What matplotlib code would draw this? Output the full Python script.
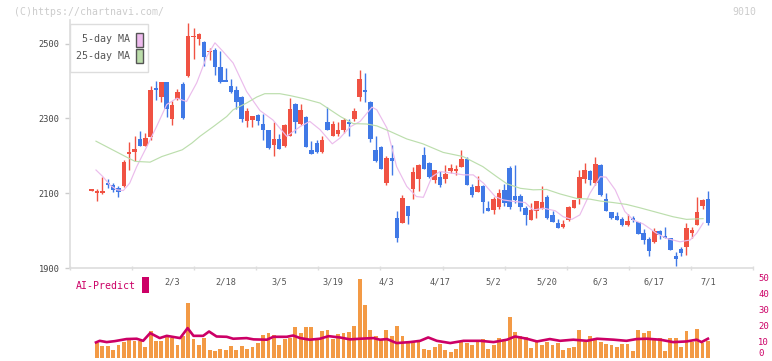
import numpy as np
import matplotlib.pyplot as plt
from matplotlib.patches import Rectangle

W, H = 772, 361
MONO = 'DejaVu Sans Mono'

# daily candles, 2025-01-10 .. 2025-07-01
opens = [2107, 2102, 2101, 2126, 2122, 2113, 2118, 2206, 2209, 2245,
         2227, 2250, 2379, 2356, 2396, 2297, 2353, 2393, 2412, 2518,
         2513, 2503, 2478, 2484, 2438, 2401, 2387, 2377, 2358, 2294,
         2296, 2309, 2286, 2268, 2229, 2245, 2225, 2254, 2339, 2286,
         2304, 2216, 2235, 2209, 2291, 2254, 2257, 2268, 2291, 2298,
         2358, 2376, 2345, 2216, 2224, 2127, 2195, 2034, 2021, 2066,
         2112, 2139, 2203, 2181, 2134, 2144, 2139, 2160, 2161, 2171,
         2192, 2117, 2104, 2120, 2061, 2056, 2064, 2109, 2168, 2093,
         2093, 2061, 2028, 2053, 2059, 2090, 2042, 2020, 2010, 2028,
         2061, 2088, 2139, 2160, 2128, 2176, 2085, 2050, 2039, 2031,
         2016, 2034, 2023, 1994, 1977, 1969, 1999, 1984, 1980, 1932,
         1951, 1957, 1994, 2016, 2066, 2085]
highs = [2110, 2111, 2144, 2137, 2127, 2120, 2188, 2237, 2252, 2267,
         2261, 2386, 2399, 2398, 2397, 2347, 2379, 2396, 2554, 2541,
         2527, 2508, 2487, 2488, 2479, 2435, 2406, 2386, 2360, 2328,
         2307, 2312, 2312, 2269, 2291, 2259, 2285, 2355, 2341, 2339,
         2307, 2240, 2243, 2252, 2330, 2293, 2291, 2301, 2299, 2328,
         2428, 2422, 2347, 2253, 2225, 2200, 2229, 2052, 2095, 2067,
         2171, 2177, 2224, 2183, 2163, 2158, 2175, 2178, 2175, 2216,
         2197, 2124, 2147, 2121, 2079, 2089, 2111, 2125, 2174, 2176,
         2099, 2066, 2074, 2080, 2119, 2095, 2052, 2031, 2028, 2066,
         2083, 2162, 2181, 2161, 2197, 2177, 2101, 2051, 2050, 2037,
         2044, 2039, 2024, 2004, 1983, 2007, 2001, 2010, 1981, 1943,
         1956, 2020, 2010, 2090, 2085, 2106]
lows = [2106, 2080, 2099, 2113, 2102, 2091, 2117, 2162, 2187, 2225,
        2226, 2241, 2348, 2345, 2305, 2281, 2348, 2298, 2411, 2459,
        2495, 2439, 2457, 2417, 2395, 2399, 2368, 2326, 2289, 2277,
        2276, 2283, 2241, 2219, 2200, 2218, 2224, 2254, 2261, 2281,
        2223, 2205, 2208, 2208, 2269, 2253, 2252, 2262, 2252, 2292,
        2347, 2343, 2237, 2184, 2165, 2123, 2149, 1970, 2020, 2018,
        2085, 2107, 2165, 2141, 2128, 2116, 2127, 2155, 2148, 2170,
        2122, 2089, 2103, 2048, 2052, 2044, 2059, 2066, 2057, 2075,
        2053, 2016, 2027, 2034, 2058, 2032, 2023, 2007, 2008, 2026,
        2060, 2071, 2128, 2123, 2123, 2093, 2052, 2032, 2027, 2013,
        2013, 2023, 1990, 1964, 1932, 1967, 1977, 1980, 1948, 1905,
        1933, 1935, 1980, 2015, 2059, 2015]
closes = [2109, 2104, 2106, 2122, 2109, 2103, 2184, 2208, 2219, 2227,
          2248, 2377, 2377, 2396, 2325, 2337, 2371, 2302, 2520, 2520,
          2525, 2464, 2480, 2437, 2396, 2399, 2370, 2345, 2297, 2321,
          2306, 2292, 2270, 2221, 2245, 2219, 2283, 2326, 2291, 2323,
          2224, 2206, 2209, 2243, 2270, 2286, 2270, 2296, 2284, 2320,
          2406, 2370, 2244, 2185, 2166, 2194, 2185, 1981, 2087, 2040,
          2156, 2175, 2166, 2142, 2162, 2123, 2152, 2168, 2163, 2191,
          2123, 2094, 2118, 2077, 2053, 2085, 2100, 2075, 2064, 2082,
          2064, 2042, 2055, 2079, 2077, 2034, 2024, 2008, 2018, 2063,
          2082, 2144, 2162, 2134, 2178, 2094, 2053, 2034, 2028, 2016,
          2026, 2029, 1991, 1975, 1945, 1999, 1988, 1982, 1949, 1925,
          1940, 2007, 2002, 2050, 2082, 2020]

# moving averages (candle index, price)
ma5_idx = [0.8, 2.1, 3.4, 4.7, 5.9, 7.1, 8.4, 10.3, 12.1, 14, 15.9, 17.7, 19.6,
           21.5, 23, 24.5, 26.4, 28.9, 31.4, 33.8, 36.4, 38.9, 40.7, 42.6, 44.9,
           46.3, 48.2, 50.1, 52.3, 53.2, 55.1, 56.9, 58.8, 60.6, 61.9, 63.5, 65,
           67.5, 69.4, 71.2, 73.1, 75.3, 76.8, 78.7, 80.9, 82.4, 84.3, 86.5, 88,
           89.6, 91.1, 93, 94.9, 96, 97.7, 99.5, 101.1, 102.9, 105.4, 107.3,
           109.8, 111.7, 112.9, 114.1]
ma5_val = [2162, 2144, 2122, 2109, 2107, 2127, 2171, 2225, 2278, 2337, 2354,
           2345, 2395, 2466, 2502, 2479, 2448, 2372, 2321, 2296, 2252, 2278,
           2292, 2270, 2232, 2247, 2277, 2292, 2330, 2323, 2274, 2171, 2118,
           2091, 2089, 2144, 2158, 2153, 2149, 2149, 2127, 2091, 2082, 2078,
           2075, 2055, 2060, 2053, 2037, 2030, 2042, 2100, 2144, 2143, 2109,
           2051, 2028, 2018, 1993, 1979, 1970, 1975, 1993, 2020]
ma25_idx = [0.8, 6.3, 8.1, 10.9, 13.1, 16.9, 18.7, 20.2, 22.7, 25.2, 26.4,
            28.9, 30.8, 32.3, 35.1, 37, 39.5, 42.6, 44.5, 46.4, 48.8, 51.3,
            53.2, 55.7, 58.8, 61.8, 65.6, 69.3, 73, 75.6, 77.5, 80, 82.4, 84.9,
            87.4, 90.5, 93, 94.9, 97.3, 99.8, 102.3, 105.4, 108.5, 111, 114.1]
ma25_val = [2239, 2198, 2185, 2183, 2198, 2216, 2234, 2252, 2278, 2305, 2323,
            2341, 2357, 2366, 2366, 2361, 2353, 2341, 2323, 2305, 2286, 2285,
            2280, 2265, 2245, 2232, 2209, 2198, 2171, 2144, 2125, 2113, 2109,
            2110, 2098, 2086, 2084, 2079, 2075, 2070, 2061, 2049, 2037, 2030,
            2032]

# lower panel: bars for candles 1..115
volume = [9.5, 7.2, 7.2, 5.2, 7.9, 9.9, 11.4, 10.3, 10.3, 6.6,
          16.9, 10.3, 10.3, 13.4, 12.4, 8.3, 13.4, 34.5, 12.0, 7.9,
          12.6, 5.2, 4.5, 5.8, 5.2, 7.2, 5.2, 7.2, 5.8, 6.6,
          9.5, 14.5, 15.3, 14.5, 8.3, 11.6, 12.4, 19.6, 15.3, 19.0,
          19.0, 12.0, 16.9, 17.6, 11.6, 15.1, 15.5, 16.5, 20.0, 49.2,
          33.1, 17.6, 13.4, 11.0, 17.6, 13.4, 20.0, 13.4, 10.3, 10.3,
          10.3, 5.8, 5.2, 6.6, 8.9, 5.2, 3.7, 5.8, 9.9, 9.5,
          8.3, 9.9, 12.0, 5.8, 7.9, 12.6, 10.3, 25.8, 16.3, 14.0,
          12.8, 6.0, 9.9, 8.3, 9.9, 7.9, 9.5, 5.2, 6.0, 6.6,
          17.6, 9.9, 13.8, 12.0, 9.9, 8.9, 8.3, 6.6, 8.9, 8.9,
          4.5, 17.6, 15.7, 16.9, 12.6, 12.6, 4.5, 12.6, 12.6, 6.6,
          16.9, 9.9, 18.2, 9.1, 10.7]
ai_idx = [0.8, 1.5, 2.8, 4.3, 6.5, 8.4, 9.6, 10.9, 12.7, 14, 16.5, 17.9, 19,
          20.8, 21.9, 23.3, 25.2, 26.4, 28.9, 30.2, 32.7, 33.9, 36.4, 37.6,
          38.9, 40.7, 42.6, 44.2, 46.3, 48.2, 50.1, 52.6, 53.8, 55.1, 56.9,
          59.4, 61.3, 62.8, 64.4, 66.9, 69.4, 72.5, 75, 77.5, 79, 81.2, 83.1,
          85.5, 87.4, 89.9, 92.4, 94.3, 97.4, 99.8, 101.7, 103.6, 106.1,
          108.5, 111, 112.9, 113.8, 115]
ai_val = [9.7, 10.7, 9.9, 10.5, 11.8, 12.0, 10.7, 15.5, 12.4, 13.8, 12.4,
          18.6, 13.8, 13.8, 16.5, 13.4, 13.2, 12.0, 12.4, 11.6, 11.4, 13.2,
          13.2, 14.0, 12.4, 11.4, 12.0, 13.6, 12.8, 11.6, 12.0, 12.4, 11.4,
          11.8, 9.3, 9.9, 10.7, 12.8, 10.7, 9.3, 10.7, 10.7, 9.9, 11.4, 13.4,
          12.0, 10.3, 11.8, 10.7, 11.4, 10.7, 12.0, 11.4, 10.7, 11.8, 12.0,
          11.4, 9.9, 10.3, 11.4, 9.9, 12.0]

date_labels = ['2/3', '2/18', '3/5', '3/19', '4/3', '4/17', '5/2', '5/20',
               '6/3', '6/17', '7/1']
date_idx = [15, 25, 35, 45, 55, 65, 75, 85, 95, 105, 115]

UP, DOWN = '#f05243', '#4079e6'


def fx(px):
    return px / W


def fy(py):
    return 1 - py / H


fig = plt.figure(figsize=(W / 100, H / 100), dpi=100)
xlim = (-3.975, 123.34)

# --- price panel ---
ax = fig.add_axes([fx(70.4), fy(268), (752.6 - 70.4) / W, 248 / H])
ax.set_xlim(*xlim)
ax.set_ylim(1900, 2563)

o, h, l, c = map(np.array, (opens, highs, lows, closes))
x = np.arange(len(o))
cols = np.where(c >= o, UP, DOWN)
ax.vlines(x, l, h, colors=cols, lw=1.0, zorder=2)
body = np.maximum(np.abs(c - o), 4)
bottom = (o + c) / 2 - body / 2
ax.bar(x, body, bottom=bottom, width=0.84, color=cols, zorder=3)

ax.plot(ma5_idx, ma5_val, color='#ebbcec', lw=0.85, zorder=4)
ax.plot(ma25_idx, ma25_val, color='#bcdead', lw=0.85, zorder=4)

for s in ('top', 'right'):
    ax.spines[s].set_visible(False)
for s in ('left', 'bottom'):
    ax.spines[s].set_color('#dddddd')
    ax.spines[s].set_linewidth(1.2)
ax.set_yticks([1900, 2100, 2300, 2500])
ax.tick_params(axis='y', length=3.6, width=1, color='#cccccc', pad=4,
               labelsize=6.2, labelcolor='#444444')
for t in ax.get_yticklabels():
    t.set_family(MONO)
ax.set_xticks(np.linspace(xlim[0], xlim[1], 12))
ax.set_xticklabels([])
ax.tick_params(axis='x', direction='inout', length=3, width=1, color='#dddddd')

# --- lower panel ---
ax2 = fig.add_axes([fx(70.4), fy(358), (752.6 - 70.4) / W, 80.3 / H])
ax2.set_xlim(*xlim)
ax2.set_ylim(0, 50)
ax2.bar(np.arange(1, len(volume) + 1), volume, width=0.72, color='#f39a45',
        zorder=2)
ax2.plot(ai_idx, ai_val, color='#cc0066', lw=1.9, zorder=3)
for s in ax2.spines.values():
    s.set_visible(False)
ax2.set_xticks([])
ax2.yaxis.tick_right()
ax2.set_yticks(range(0, 51, 10))
ax2.tick_params(axis='y', length=0, pad=4, labelsize=6.4, labelcolor='#cc0066')
for t in ax2.get_yticklabels():
    t.set_family(MONO)
# keep the bottom label inside the canvas
ax2.get_yticklabels()[0].set_va('bottom')
for i, lab in zip(date_idx, date_labels):
    ax2.text(i, 47.5, lab, ha='center', va='center', fontsize=6.2,
             color='#555555', family=MONO)

# --- legend box and captions ---
fig.add_artist(Rectangle((fx(70.3), fy(71.7)), 78 / W, 47.7 / H,
                         transform=fig.transFigure, facecolor='white',
                         edgecolor='#dddddd', lw=1, zorder=5))
for yy, lab, col in [(39.5, '5-day MA', '#eebbee'), (56, '25-day MA', '#bbddaa')]:
    fig.text(fx(129.5), fy(yy), lab, ha='right', va='center', fontsize=7.2,
             color='#555555', family=MONO, zorder=6)
    fig.add_artist(Rectangle((fx(136), fy(yy + 7)), 6.7 / W, 14 / H,
                             transform=fig.transFigure, facecolor=col,
                             edgecolor='#555555', lw=1, zorder=6))

fig.text(fx(14), fy(12), '(C)https://chartnavi.com/', ha='left', va='center',
         fontsize=7.1, color='#cccccc', family=MONO)
fig.text(fx(756), fy(12), '9010', ha='right', va='center', fontsize=7.1,
         color='#cccccc', family=MONO)
fig.text(fx(76), fy(286), 'AI-Predict', ha='left', va='center', fontsize=7.1,
         color='#cc0066', family=MONO)
fig.add_artist(Rectangle((fx(142.3), fy(292.7)), 6.4 / W, 15.7 / H,
                         transform=fig.transFigure, facecolor='#cc0066',
                         edgecolor='none'))

fig.savefig('out.png', dpi=100)
